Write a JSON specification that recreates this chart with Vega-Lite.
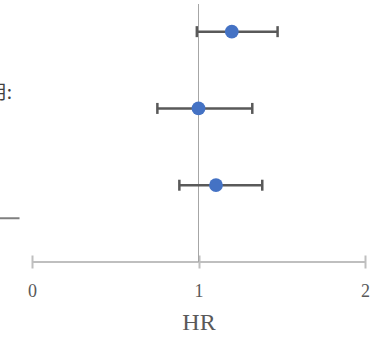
{
  "$schema": "https://vega.github.io/schema/vega-lite/v6.json",
  "width": 333,
  "height": 258,
  "autosize": {"type": "none"},
  "padding": {"left": 32, "top": 4, "right": 8, "bottom": 76},
  "config": {"view": {"stroke": null}, "font": "Liberation Serif"},
  "datasets": {
    "rows": [
      {"row": 3, "hr": 1.2, "lo": 0.99, "hi": 1.475},
      {"row": 2, "hr": 1.0, "lo": 0.753, "hi": 1.323},
      {"row": 1, "hr": 1.105, "lo": 0.885, "hi": 1.383}
    ],
    "labels": [{"row": 2.2, "x": -0.12, "text": "作用:"}],
    "dividers": [{"row": 0.57, "x1": -0.5, "x2": -0.075}]
  },
  "layer": [
    {
      "data": {"name": "rows"},
      "mark": {"type": "rule", "color": "#BFBFBF", "strokeWidth": 2},
      "encoding": {
        "y": {"datum": 0, "type": "quantitative", "scale": {"domain": [0, 3.36], "nice": false}, "axis": null}
      }
    },
    {
      "data": {"name": "rows"},
      "mark": {"type": "rule", "color": "#A6A6A6", "strokeWidth": 1},
      "encoding": {"x": {"datum": 1, "type": "quantitative"}}
    },
    {
      "data": {"name": "rows"},
      "mark": {"type": "rule", "color": "#595959", "strokeWidth": 2.5},
      "encoding": {
        "x": {"field": "lo", "type": "quantitative"},
        "x2": {"field": "hi"},
        "y": {"field": "row", "type": "quantitative"}
      }
    },
    {
      "data": {"name": "rows"},
      "mark": {"type": "tick", "orient": "vertical", "color": "#595959", "size": 11, "thickness": 2.5, "opacity": 1},
      "encoding": {
        "x": {"field": "lo", "type": "quantitative"},
        "y": {"field": "row", "type": "quantitative"}
      }
    },
    {
      "data": {"name": "rows"},
      "mark": {"type": "tick", "orient": "vertical", "color": "#595959", "size": 11, "thickness": 2.5, "opacity": 1},
      "encoding": {
        "x": {"field": "hi", "type": "quantitative"},
        "y": {"field": "row", "type": "quantitative"}
      }
    },
    {
      "data": {"name": "rows"},
      "mark": {"type": "circle", "color": "#4472C4", "size": 190, "opacity": 1},
      "encoding": {
        "x": {"field": "hr", "type": "quantitative", "scale": {"domain": [0, 2], "nice": false},
          "axis": {
            "values": [0, 1, 2], "labelExpr": "datum.value === 0 ? '0' : datum.value === 1 ? '1' : '2'", "offset": -7, "tickSize": 13, "tickColor": "#BFBFBF", "tickWidth": 2,
            "domain": false, "grid": false, "labelFlush": false, "labelOverlap": false, "labelBound": false,
            "labelFont": "Liberation Serif", "labelFontSize": 18, "labelColor": "#595959", "labelPadding": 14,
            "title": "HR", "titleFont": "Liberation Serif", "titleFontSize": 24, "titleFontWeight": "normal",
            "titleColor": "#595959", "titlePadding": 10
          }
        },
        "y": {"field": "row", "type": "quantitative"}
      }
    },
    {
      "data": {"name": "labels"},
      "mark": {"type": "text", "align": "right", "baseline": "middle", "font": "Noto Sans CJK SC", "fontSize": 19, "color": "#404040"},
      "encoding": {
        "x": {"field": "x", "type": "quantitative"},
        "y": {"field": "row", "type": "quantitative"},
        "text": {"field": "text"}
      }
    },
    {
      "data": {"name": "dividers"},
      "mark": {"type": "rule", "color": "#7F7F7F", "strokeWidth": 2},
      "encoding": {
        "x": {"field": "x1", "type": "quantitative"},
        "x2": {"field": "x2"},
        "y": {"field": "row", "type": "quantitative"}
      }
    }
  ]
}
